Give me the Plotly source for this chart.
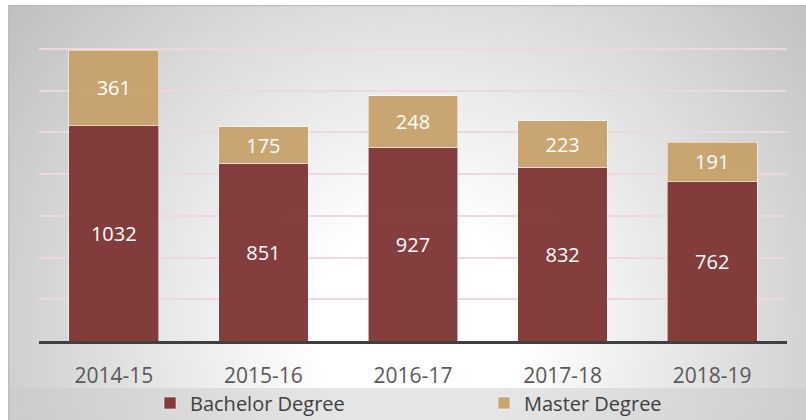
import base64

import plotly.graph_objects as go

years = ["2014-15", "2015-16", "2016-17", "2017-18", "2018-19"]
bachelor = [1032, 851, 927, 832, 762]
master = [361, 175, 248, 223, 191]

# plot area in pixels (806x420 page)
L, R, T, B = 39, 19, 7, 79
W, H = 806, 420
PW, PH = W - L - R, H - T - B


def px_x(x):
    return (x - L) / PW


def px_y(y):
    return (H - B - y) / PH


# background frame: radial gray gradient + legend band, drawn as an svg
svg = """<svg xmlns="http://www.w3.org/2000/svg" width="798" height="415" viewBox="0 0 798 415" preserveAspectRatio="none">
<defs><radialGradient id="g" cx="412" cy="320" r="520" gradientUnits="userSpaceOnUse">
<stop offset="0" stop-color="#ffffff"/><stop offset="0.2" stop-color="#ffffff"/>
<stop offset="1" stop-color="#bfbfbf"/></radialGradient></defs>
<rect width="798" height="415" fill="url(#g)"/>
<rect y="383" width="798" height="32" fill="#c8c8c8" fill-opacity="0.45"/>
<line x1="0.5" y1="0" x2="0.5" y2="415" stroke="#bcbcbc" stroke-width="1.5"/>
<line x1="0" y1="0.5" x2="798" y2="0.5" stroke="#bcbcbc" stroke-width="1.5"/>
</svg>"""
src = "data:image/svg+xml;base64," + base64.b64encode(svg.encode()).decode()

fig = go.Figure()
fig.add_trace(
    go.Bar(
        x=years,
        y=bachelor,
        name="Bachelor Degree",
        marker=dict(color="rgba(122,46,46,0.92)", line=dict(color="rgba(255,255,255,0.55)", width=1)),
        text=bachelor,
        textposition="inside",
        insidetextanchor="middle",
        textangle=0,
        textfont=dict(color="white", size=20, family="Open Sans"),
    )
)
fig.add_trace(
    go.Bar(
        x=years,
        y=master,
        name="Master Degree",
        marker=dict(color="rgba(198,158,103,0.92)", line=dict(color="rgba(255,255,255,0.55)", width=1)),
        text=master,
        textposition="inside",
        insidetextanchor="middle",
        textangle=0,
        textfont=dict(color="white", size=20, family="Open Sans"),
    )
)

fig.add_layout_image(
    dict(
        source=src,
        xref="paper",
        yref="paper",
        x=px_x(8),
        y=px_y(5),
        sizex=px_x(806) - px_x(8),
        sizey=px_y(5) - px_y(420),
        sizing="stretch",
        xanchor="left",
        yanchor="top",
        layer="below",
    )
)

fig.update_layout(
    width=W,
    height=H,
    barmode="stack",
    bargap=0.4,
    margin=dict(l=L, r=R, t=T, b=B, autoexpand=False),
    paper_bgcolor="white",
    plot_bgcolor="rgba(0,0,0,0)",
    font=dict(family="Open Sans", color="#595959"),
    uniformtext_mode="show",
    uniformtext_minsize=20,
    legend=dict(
        orientation="h",
        traceorder="normal",
        x=px_x(150),
        xanchor="left",
        y=px_y(403),
        yanchor="middle",
        font=dict(size=20, color="#404040"),
        itemwidth=30,
        entrywidth=289,
        bgcolor="rgba(0,0,0,0)",
    ),
)
fig.update_xaxes(
    showline=True,
    linecolor="#404040",
    linewidth=3,
    ticks="",
    tickfont=dict(size=21, color="#595959"),
    ticklabelstandoff=14,
)
fig.update_yaxes(
    range=[0, 1600],
    dtick=200,
    showticklabels=False,
    gridcolor="#eed8df",
    gridwidth=1.5,
    zeroline=False,
)

fig.write_html(
    "out.html",
    config={"displayModeBar": False},
    post_script="document.body.style.margin='0';",
)
